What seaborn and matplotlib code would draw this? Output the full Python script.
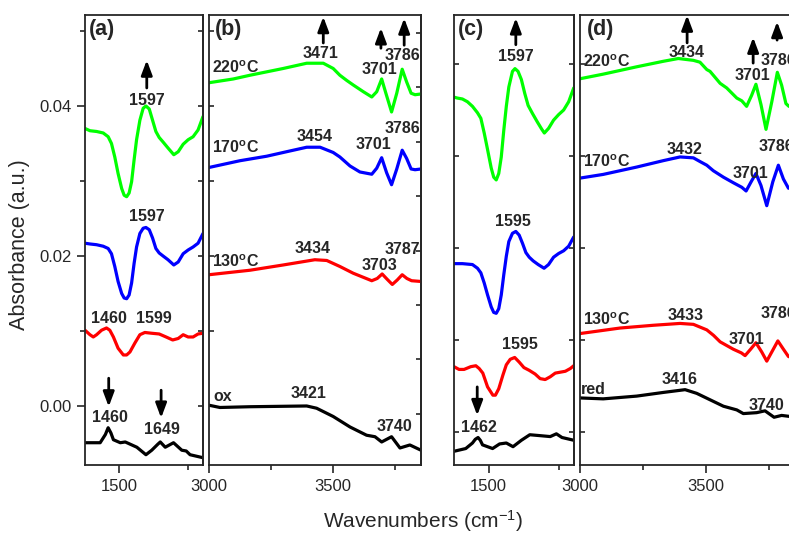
import numpy as np
import pandas as pd
import seaborn as sns
import matplotlib
matplotlib.use("Agg")
import matplotlib.pyplot as plt
from matplotlib.ticker import FixedLocator, MultipleLocator, NullFormatter, FormatStrFormatter

# ---------------- data ----------------
# panel (a): low wavenumber region, oxidised sample
a_green_wn = [1376, 1394, 1418, 1442, 1460, 1472, 1484, 1496, 1509, 1518, 1527, 1536, 1545, 1554,
              1563, 1575, 1587, 1597, 1609, 1621, 1633, 1645, 1659, 1677, 1698, 1714, 1732, 1750,
              1768, 1786, 1804]
a_green_ab = [0.0370, 0.0367, 0.0366, 0.0364, 0.0359, 0.0350, 0.0332, 0.0310, 0.0290, 0.0281, 0.0279,
              0.0284, 0.0299, 0.0328, 0.0355, 0.0381, 0.0397, 0.0400, 0.0396, 0.0381, 0.0366, 0.0358,
              0.0352, 0.0344, 0.0335, 0.0339, 0.0349, 0.0355, 0.0359, 0.0368, 0.0386]
a_blue_wn = a_green_wn
a_blue_ab = [0.0217, 0.0216, 0.0215, 0.0213, 0.0210, 0.0203, 0.0186, 0.0166, 0.0150, 0.0144, 0.0143,
             0.0148, 0.0164, 0.0190, 0.0212, 0.0230, 0.0237, 0.0238, 0.0235, 0.0224, 0.0210, 0.0204,
             0.0200, 0.0195, 0.0188, 0.0192, 0.0203, 0.0208, 0.0212, 0.0217, 0.0230]
a_red_wn = [1376, 1394, 1406, 1418, 1436, 1454, 1466, 1479, 1496, 1515, 1527, 1539, 1557, 1575, 1593,
            1617, 1645, 1670, 1694, 1714, 1732, 1750, 1768, 1786, 1804]
a_red_ab = [0.0101, 0.0095, 0.0092, 0.0095, 0.0101, 0.0104, 0.0101, 0.0092, 0.0077, 0.0068, 0.0068,
            0.0072, 0.0084, 0.0095, 0.0098, 0.0097, 0.0096, 0.0092, 0.0088, 0.0090, 0.0095, 0.0092,
            0.0092, 0.0096, 0.0097]
a_black_wn = [1376, 1431, 1450, 1460, 1470, 1479, 1504, 1522, 1564, 1597, 1618, 1640, 1649, 1667,
              1697, 1727, 1743, 1757, 1804]
a_black_ab = [-0.0049, -0.0049, -0.0038, -0.0029, -0.0036, -0.0045, -0.0049, -0.0048, -0.0055,
              -0.0065, -0.0059, -0.0051, -0.0048, -0.0055, -0.0049, -0.0059, -0.0060, -0.0065, -0.0069]

# panel (b): OH region, oxidised sample
b_green_wn = [3000, 3098, 3166, 3300, 3395, 3462, 3502, 3529, 3557, 3583, 3624, 3658, 3678, 3698,
              3715, 3738, 3759, 3781, 3799, 3817, 3833, 3857]
b_green_ab = [0.0431, 0.0436, 0.0441, 0.0450, 0.0457, 0.0457, 0.0450, 0.0441, 0.0434, 0.0428, 0.0419,
              0.0412, 0.0419, 0.0436, 0.0417, 0.0392, 0.0417, 0.0449, 0.0432, 0.0417, 0.0415, 0.0416]
b_blue_wn = [3000, 3125, 3233, 3327, 3395, 3449, 3502, 3529, 3570, 3610, 3658, 3678, 3698, 3718,
             3738, 3759, 3781, 3799, 3817, 3833, 3857]
b_blue_ab = [0.0318, 0.0327, 0.0333, 0.0340, 0.0345, 0.0345, 0.0338, 0.0332, 0.0320, 0.0312, 0.0309,
             0.0317, 0.0331, 0.0311, 0.0295, 0.0316, 0.0341, 0.0330, 0.0316, 0.0315, 0.0316]
b_red_wn = [3000, 3166, 3300, 3428, 3476, 3529, 3583, 3658, 3680, 3700, 3720, 3741, 3761, 3781,
            3800, 3819, 3857]
b_red_ab = [0.0175, 0.0181, 0.0188, 0.0195, 0.0194, 0.0186, 0.0177, 0.0167, 0.0170, 0.0176, 0.0169,
            0.0162, 0.0168, 0.0175, 0.0170, 0.0167, 0.0166]
b_black_wn = [3000, 3044, 3166, 3395, 3435, 3502, 3570, 3637, 3671, 3698, 3738, 3772, 3812, 3857]
b_black_ab = [0.0001, -0.0002, -0.0001, 0.0000, -0.0003, -0.0014, -0.0028, -0.0039, -0.0041,
              -0.0048, -0.0041, -0.0056, -0.0052, -0.0059]

# panel (c): low wavenumber region, reduced sample
c_green_wn = [1376, 1388, 1406, 1424, 1442, 1460, 1472, 1484, 1496, 1509, 1518, 1527, 1536, 1545,
              1554, 1563, 1572, 1585, 1594, 1605, 1617, 1629, 1641, 1657, 1674, 1690, 1699, 1714,
              1732, 1750, 1768, 1786, 1804]
c_green_ab = [0.0364, 0.0363, 0.0362, 0.0359, 0.0354, 0.0347, 0.0341, 0.0325, 0.0307, 0.0287, 0.0277,
              0.0274, 0.0281, 0.0299, 0.0328, 0.0354, 0.0375, 0.0392, 0.0395, 0.0392, 0.0383, 0.0368,
              0.0355, 0.0346, 0.0337, 0.0329, 0.0325, 0.0330, 0.0339, 0.0345, 0.0350, 0.0359, 0.0374]
c_blue_wn = [1376, 1406, 1442, 1460, 1472, 1484, 1496, 1509, 1518, 1527, 1536, 1545, 1554, 1563,
             1572, 1585, 1597, 1609, 1621, 1633, 1645, 1659, 1677, 1698, 1714, 1732, 1750, 1768,
             1786, 1804]
c_blue_ab = [0.0183, 0.0183, 0.0182, 0.0178, 0.0173, 0.0162, 0.0149, 0.0136, 0.0130, 0.0129, 0.0134,
             0.0149, 0.0171, 0.0191, 0.0207, 0.0216, 0.0218, 0.0214, 0.0205, 0.0195, 0.0190, 0.0186,
             0.0182, 0.0178, 0.0182, 0.0190, 0.0194, 0.0197, 0.0202, 0.0212]
c_red_wn = [1376, 1394, 1412, 1436, 1454, 1466, 1479, 1496, 1515, 1524, 1536, 1551, 1563, 1577,
            1593, 1609, 1626, 1645, 1666, 1684, 1702, 1720, 1738, 1756, 1774, 1792, 1804]
c_red_ab = [0.0071, 0.0068, 0.0068, 0.0071, 0.0072, 0.0069, 0.0064, 0.0049, 0.0040, 0.0040, 0.0047,
            0.0062, 0.0073, 0.0079, 0.0081, 0.0076, 0.0070, 0.0067, 0.0063, 0.0058, 0.0057, 0.0060,
            0.0064, 0.0065, 0.0066, 0.0069, 0.0072]
c_black_wn = [1376, 1418, 1442, 1452, 1462, 1470, 1478, 1514, 1539, 1563, 1587, 1617, 1647, 1684,
              1720, 1742, 1762, 1804]
c_black_ab = [-0.0021, -0.0018, -0.0012, -0.0008, -0.0006, -0.0009, -0.0014, -0.0018, -0.0013,
              -0.0012, -0.0016, -0.0009, -0.0003, -0.0004, -0.0005, -0.0002, -0.0006, -0.0009]

# panel (d): OH region, reduced sample
d_green_wn = [3000, 3092, 3225, 3331, 3390, 3450, 3476, 3503, 3516, 3556, 3582, 3622, 3642, 3661,
              3681, 3698, 3718, 3738, 3761, 3783, 3800, 3817, 3829, 3857]
d_green_ab = [0.0384, 0.0389, 0.0397, 0.0403, 0.0406, 0.0404, 0.0402, 0.0394, 0.0392, 0.0379, 0.0374,
              0.0363, 0.0360, 0.0354, 0.0366, 0.0378, 0.0356, 0.0329, 0.0359, 0.0391, 0.0377, 0.0357,
              0.0354, 0.0356]
d_blue_wn = [3000, 3092, 3225, 3331, 3397, 3450, 3476, 3503, 3529, 3569, 3608, 3642, 3659, 3681,
             3698, 3718, 3741, 3765, 3787, 3807, 3827, 3857]
d_blue_ab = [0.0276, 0.0280, 0.0288, 0.0295, 0.0299, 0.0298, 0.0294, 0.0290, 0.0284, 0.0277, 0.0271,
             0.0266, 0.0262, 0.0273, 0.0281, 0.0268, 0.0246, 0.0272, 0.0290, 0.0275, 0.0265, 0.0265]
d_red_wn = [3000, 3159, 3291, 3397, 3450, 3503, 3530, 3556, 3608, 3640, 3655, 3677, 3698, 3721,
            3741, 3765, 3785, 3807, 3827, 3857]
d_red_ab = [0.0107, 0.0113, 0.0116, 0.0118, 0.0117, 0.0111, 0.0105, 0.0098, 0.0090, 0.0086, 0.0083,
            0.0090, 0.0097, 0.0087, 0.0077, 0.0089, 0.0099, 0.0090, 0.0082, 0.0080]
d_black_wn = [3000, 3092, 3225, 3331, 3417, 3463, 3516, 3569, 3622, 3648, 3701, 3734, 3770, 3800,
              3829, 3857]
d_black_ab = [0.0037, 0.0036, 0.0039, 0.0043, 0.0046, 0.0042, 0.0035, 0.0028, 0.0024, 0.0020, 0.0021,
              0.0023, 0.0016, 0.0018, 0.0017, 0.0016]

temps = ["220", "170", "130"]
colors = {"green": "#00ff00", "blue": "#0000ff", "red": "#ff0000", "black": "#000000"}

# ---------------- style ----------------
sns.set_style("ticks")
plt.rcParams["font.family"] = ["Liberation Sans", "DejaVu Sans"]
plt.rcParams["mathtext.fontset"] = "custom"
plt.rcParams["mathtext.rm"] = "Liberation Sans"
plt.rcParams["mathtext.bf"] = "Liberation Sans:bold"
plt.rcParams["mathtext.it"] = "Liberation Sans:italic"
plt.rcParams["axes.linewidth"] = 1.3
plt.rcParams["xtick.direction"] = "out"
plt.rcParams["ytick.direction"] = "in"
plt.rcParams["lines.solid_joinstyle"] = "round"

W, H = 789, 540
fig = plt.figure(figsize=(W / 100, H / 100), dpi=100)


def box(l, r, t=15, b=465):
    return [l / W, (H - b) / H, (r - l) / W, (b - t) / H]


ax_a = fig.add_axes(box(85, 203.3))
ax_b = fig.add_axes(box(209, 421))
ax_c = fig.add_axes(box(454, 574))
ax_d = fig.add_axes(box(580, 796))

lw = 2.3


def draw(ax, series):
    for name, wn, ab in series:
        df = pd.DataFrame({"wn": wn, "ab": ab})
        sns.lineplot(data=df, x="wn", y="ab", color=colors[name], lw=lw,
                     sort=False, ax=ax, legend=False)


draw(ax_a, [("green", a_green_wn, a_green_ab), ("blue", a_blue_wn, a_blue_ab),
            ("red", a_red_wn, a_red_ab), ("black", a_black_wn, a_black_ab)])
draw(ax_b, [("green", b_green_wn, b_green_ab), ("blue", b_blue_wn, b_blue_ab),
            ("red", b_red_wn, b_red_ab), ("black", b_black_wn, b_black_ab)])
draw(ax_c, [("green", c_green_wn, c_green_ab), ("blue", c_blue_wn, c_blue_ab),
            ("red", c_red_wn, c_red_ab), ("black", c_black_wn, c_black_ab)])
draw(ax_d, [("green", d_green_wn, d_green_ab), ("blue", d_blue_wn, d_blue_ab),
            ("red", d_red_wn, d_red_ab), ("black", d_black_wn, d_black_ab)])

ylim_ox = (-0.00787, 0.05213)
ylim_red = (-0.00359, 0.04533)
for ax in (ax_a, ax_c):
    ax.set_xlim(1376, 1805)
    ax.xaxis.set_major_locator(FixedLocator([1500]))
    ax.xaxis.set_minor_locator(FixedLocator([1750]))
for ax in (ax_b, ax_d):
    ax.set_xlim(3000, 3857)
    ax.xaxis.set_major_locator(FixedLocator([3000, 3500]))
    ax.xaxis.set_minor_locator(FixedLocator([3250, 3750]))
ax_a.set_ylim(*ylim_ox)
ax_b.set_ylim(*ylim_ox)
ax_c.set_ylim(*ylim_red)
ax_d.set_ylim(*ylim_red)

for ax in (ax_a, ax_b, ax_c, ax_d):
    ax.set_xlabel("")
    ax.set_ylabel("")
    for sp in ax.spines.values():
        sp.set_visible(True)
        sp.set_linewidth(1.3)
    ax.tick_params(axis="x", which="major", direction="out", length=6, width=1.2,
                   labelsize=12, pad=4)
    ax.tick_params(axis="x", which="minor", direction="out", length=3.5, width=1.2)


def inner_right(ax, step, functions=None):
    if functions is None:
        sec = ax.secondary_yaxis("right")
    else:
        sec = ax.secondary_yaxis("right", functions=functions)
    sec.yaxis.set_major_locator(MultipleLocator(step))
    sec.yaxis.set_major_formatter(NullFormatter())
    sec.tick_params(axis="y", which="both", direction="in", length=3.5, width=1.2)
    return sec


# y ticks for (a): labelled, outward on the left
ax_a.yaxis.set_major_locator(FixedLocator([0.0, 0.02, 0.04]))
ax_a.yaxis.set_minor_locator(FixedLocator([0.01, 0.03, 0.05]))
ax_a.yaxis.set_major_formatter(FormatStrFormatter("%.2f"))
ax_a.tick_params(axis="y", which="major", direction="out", length=6, width=1.2, labelsize=12)
ax_a.tick_params(axis="y", which="minor", direction="out", length=3.5, width=1.2)
inner_right(ax_a, 0.01)

# inward unlabelled y ticks for the other panels
for ax in (ax_b, ax_c, ax_d):
    ax.yaxis.set_major_locator(MultipleLocator(0.01))
    ax.yaxis.set_major_formatter(NullFormatter())
    ax.tick_params(axis="y", which="major", direction="in", length=3.5, width=1.2)
inner_right(ax_c, 0.01)
# (b) right spine carries its own tick spacing
y0, dy = 0.04973, 0.007253
inner_right(ax_b, 1, functions=(lambda y: (y - y0) / dy, lambda u: u * dy + y0))

# ---------------- annotations ----------------
lab_kw = dict(fontsize=11.5, fontweight="bold", ha="center", va="center")
side_kw = dict(fontsize=11.5, fontweight="bold", ha="left", va="center")


def labels(ax, items):
    for txt, x, y in items:
        ax.text(x, y, txt, **lab_kw)


def arrows(ax, items):
    for x, tail, tip in items:
        ax.annotate("", xy=(x, tip), xytext=(x, tail),
                    arrowprops=dict(arrowstyle="-|>,head_length=0.8,head_width=0.3",
                                    color="k", lw=2, mutation_scale=11,
                                    shrinkA=0, shrinkB=0))


for ax, tag in zip((ax_a, ax_b, ax_c, ax_d), "abcd"):
    ax.text(0.03, 0.99, f"({tag})", transform=ax.transAxes, fontsize=15.5,
            fontweight="bold", ha="left", va="top")

labels(ax_a, [("1597", 1600, 0.0407), ("1597", 1600, 0.0252), ("1460", 1461, 0.0117),
              ("1599", 1624, 0.0117), ("1460", 1467, -0.0015), ("1649", 1655, -0.0032)])
arrows(ax_a, [(1600, 0.0424, 0.0461), (1462, 0.0037, -0.0001), (1652, 0.0021, -0.0016)])

labels(ax_b, [("3471", 3451, 0.0470), ("3701", 3691, 0.0448), ("3786", 3783, 0.0467),
              ("3454", 3428, 0.0359), ("3701", 3664, 0.0348), ("3786", 3783, 0.0370),
              ("3434", 3418, 0.0210), ("3703", 3691, 0.0187), ("3787", 3783, 0.0208),
              ("3421", 3401, 0.0017), ("3740", 3749, -0.0028)])
arrows(ax_b, [(3462, 0.0484, 0.0519), (3695, 0.0477, 0.0504), (3789, 0.0481, 0.0517)])
for t, y in zip(temps, [0.0451, 0.0344, 0.0192]):
    ax_b.text(3011, y, t + r"$^{\mathbf{o}}$C", **side_kw)
ax_b.text(3017, 0.0012, "ox", **side_kw)

labels(ax_c, [("1597", 1597, 0.0408), ("1595", 1585, 0.0229), ("1595", 1611, 0.0095),
              ("1462", 1464, 0.0005)])
arrows(ax_c, [(1597, 0.0421, 0.0450), (1459, 0.0049, 0.0018)])

# the (d) panel runs past the right edge of the picture, as in the original
labels(ax_d, [("3434", 3423, 0.0413), ("3701", 3685, 0.0387), ("3786", 3786, 0.0404),
              ("3432", 3414, 0.0307), ("3701", 3675, 0.0281), ("3786", 3780, 0.0310),
              ("3433", 3419, 0.0127), ("3701", 3661, 0.0100), ("3786", 3786, 0.0129),
              ("3416", 3397, 0.0057), ("3740", 3741, 0.0029)])
arrows(ax_d, [(3425, 0.0423, 0.0453), (3687, 0.0401, 0.0429), (3782, 0.0426, 0.0446)])
for t, y in zip(temps, [0.0403, 0.0294, 0.0122]):
    ax_d.text(3013, y, t + r"$^{\mathbf{o}}$C", **side_kw)
ax_d.text(3002, 0.0046, "red", **side_kw)

fig.text(20 / W, 1 - 245 / H, "Absorbance (a.u.)", rotation=90, fontsize=15.5,
         ha="center", va="center")
fig.text(423 / W, 1 - 521 / H, r"Wavenumbers (cm$^{-1}$)", fontsize=15,
         ha="center", va="center")

fig.savefig("out.png", dpi=100)
